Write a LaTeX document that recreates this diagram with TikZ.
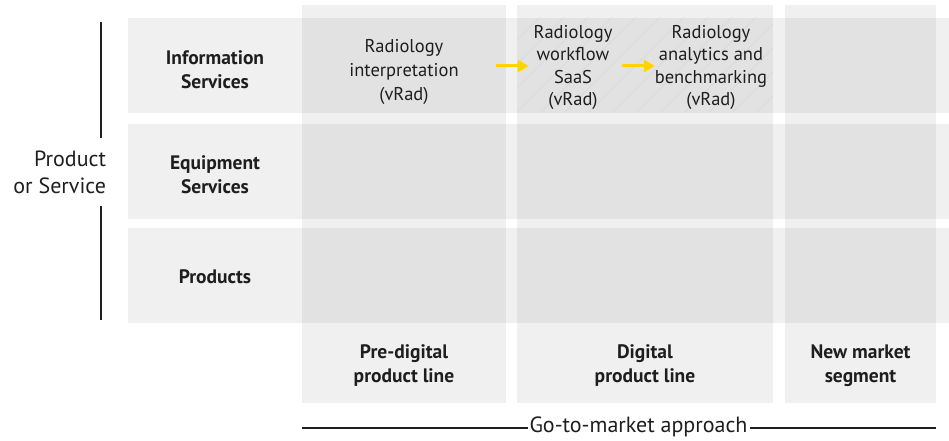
\documentclass[tikz,border=0pt]{standalone}
\usepackage{fontspec}
\setmainfont{PT Sans}
\usetikzlibrary{arrows.meta}
\definecolor{vyellow}{RGB}{255,212,0}
\definecolor{ink}{RGB}{30,30,30}

\begin{document}
\begin{tikzpicture}[
        x=1pt, y=-1pt,
        every node/.style={text=ink, inner sep=0pt, outer sep=0pt},
        band/.style={fill=black, fill opacity=0.06, minimum width=821pt, minimum height=95pt},
        colbox/.style={fill=black, fill opacity=0.06, minimum height=397.5pt},
        lab/.style={font=\fontsize{19.5}{24}\selectfont\bfseries, align=center},
        txt/.style={font=\fontsize{18.5}{24}\selectfont, align=center},
        txtfour/.style={font=\fontsize{18.5}{22.5}\selectfont, align=center},
        big/.style={font=\fontsize{22}{27}\selectfont},
        ar/.style={-{Triangle[length=11pt,width=12pt]}, line width=3pt, draw=vyellow},
        rule/.style={draw=ink, line width=1.5pt},
        hatch/.style={draw=black, draw opacity=0.04, line width=0.8pt},
    ]

    \useasboundingbox (0,0) rectangle (949,441);

    % rows
    \node[band](info) at (538.5,65.5) {};
    \node[band](equip) at (538.5,171) {};
    \node[band](prod) at (538.5,275.5) {};

    % columns
    \node[colbox, minimum width=204pt](pre) at (404,204.25) {};
    \node[colbox, minimum width=256pt](digi) at (645,204.25) {};
    \node[colbox, minimum width=151pt](new) at (860.5,204.25) {};

    \begin{scope}
        \clip (digi.west |- info.north) rectangle (digi.east |- info.south);
        \foreach \k in {0,24,...,384}
            \draw[hatch] (420+\k,113) -- ++(100,-100);
    \end{scope}

    \node[lab](tinfo) at (215,69.5) {Information\\Services};
    \node[lab](tequip) at (215,174.5) {Equipment\\Services};
    \node[lab](tprod) at (215,277) {Products};

    \node[lab](tpre) at (404,365.5) {Pre-digital\\product line};
    \node[lab](tdigi) at (645,365.5) {Digital\\product line};
    \node[lab](tnew) at (860.5,365.5) {New market\\segment};

    \node[txt](interp) at (404,72) {Radiology\\interpretation\\(vRad)};
    \node[txtfour](flow) at (573,67.5) {Radiology\\workflow\\SaaS\\(vRad)};
    \node[txtfour](ana) at (711,67.5) {Radiology\\analytics and\\benchmarking\\(vRad)};

    \draw[ar, shorten <=37pt, shorten >=5pt] (interp.east |- 0,66) -- (flow.west |- 0,66);
    \draw[ar, shorten <=10pt, shorten >=0pt] (flow.east |- 0,66) -- (ana.west |- 0,66);

    \node[big, align=right, anchor=east](ps) at (106,172) {Product\\or Service};
    \coordinate (vt) at (101,22);
    \coordinate (vb) at (101,320);
    \draw[rule, shorten >=12.5pt] (vt) -- (vt |- ps.north);
    \draw[rule, shorten >=13pt] (vb) -- (vb |- ps.south);

    \node[big](gtm) at (638.5,427) {Go-to-market approach};
    \coordinate (gl) at (302,428);
    \coordinate (gr) at (936,428);
    \draw[rule, shorten >=2pt] (gl) -- (gl -| gtm.west);
    \draw[rule, shorten >=2pt] (gr) -- (gr -| gtm.east);
\end{tikzpicture}
\end{document}
